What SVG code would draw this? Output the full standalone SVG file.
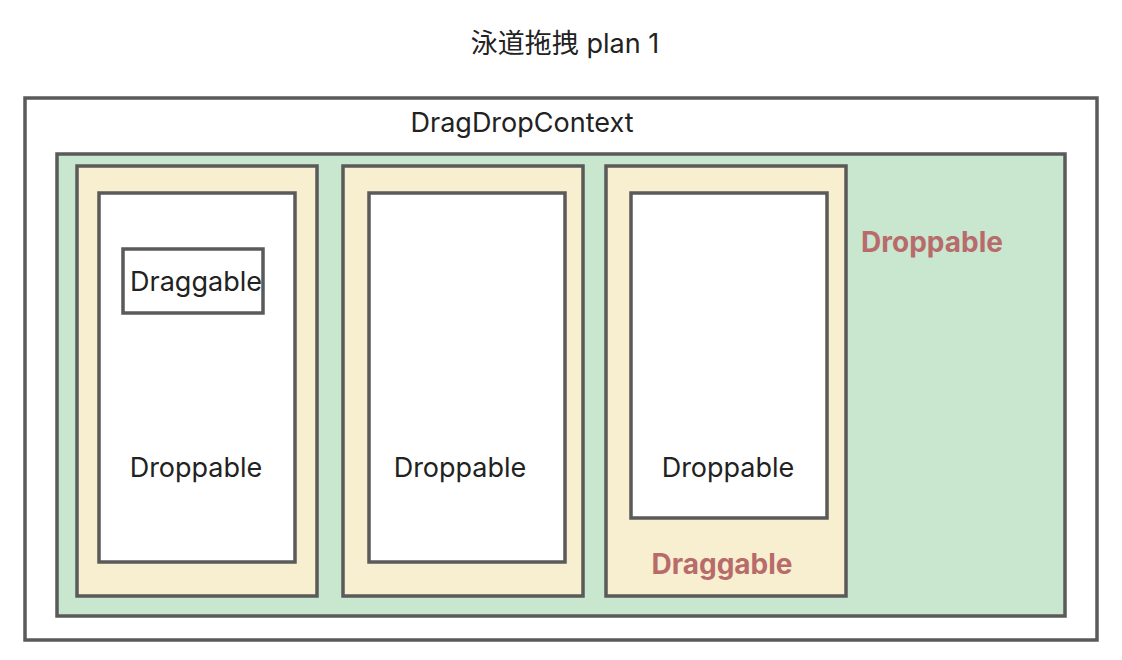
<svg xmlns="http://www.w3.org/2000/svg" width="1122" height="660" viewBox="0 0 1122 660">
<style>
.box{stroke:#5a5a5a;stroke-width:3.5}
.t{font-family:Inter,"Noto Sans","Noto Sans CJK SC",sans-serif;font-size:27px;fill:#222;text-anchor:middle}
.r{font-family:Inter,"Noto Sans",sans-serif;font-size:28px;font-weight:bold;fill:#b86b6b;text-anchor:middle}
</style>
<rect width="1122" height="660" fill="#fff"/>
<text class="t" x="565" y="53" font-family="Inter,'Noto Sans CJK SC',sans-serif">泳道拖拽 plan 1</text>
<g id="context">
<rect class="box" x="25" y="98" width="1072" height="542" fill="#fff"/>
<text class="t" x="522" y="132">DragDropContext</text>
</g>
<g id="board">
<rect class="box" x="57" y="154" width="1008" height="462" fill="#c9e6cf"/>
<text class="r" x="932" y="252">Droppable</text>
</g>
<g id="lane1">
<rect class="box" x="77" y="166" width="240" height="430" fill="#f7efcf"/>
<rect class="box" x="99" y="193" width="196" height="369" fill="#fff"/>
<text class="t" x="196" y="477">Droppable</text>
</g>
<g id="card1">
<rect class="box" x="123" y="249" width="140" height="64" fill="#fff"/>
<text class="t" x="196" y="291">Draggable</text>
</g>
<g id="lane2">
<rect class="box" x="343" y="166" width="240" height="430" fill="#f7efcf"/>
<rect class="box" x="369" y="193" width="196" height="369" fill="#fff"/>
<text class="t" x="460" y="477">Droppable</text>
</g>
<g id="lane3">
<rect class="box" x="606" y="166" width="240" height="430" fill="#f7efcf"/>
<rect class="box" x="631" y="193" width="196" height="325" fill="#fff"/>
<text class="t" x="728" y="477">Droppable</text>
<text class="r" x="722" y="574">Draggable</text>
</g>
<g id="connectors"/>
</svg>
